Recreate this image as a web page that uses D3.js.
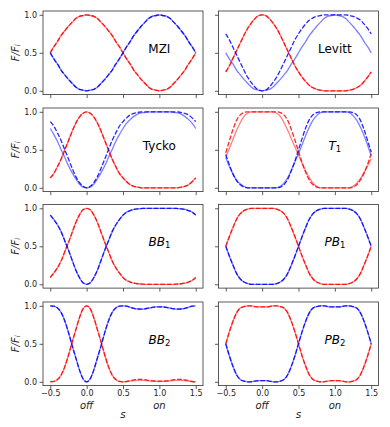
<!DOCTYPE html>
<html>
<head>
<meta charset="utf-8">
<script src="https://cdn.jsdelivr.net/npm/d3@7"></script>
<style>
  body { margin: 0; background: #fff; }
  text { font-family: 'DejaVu Sans', sans-serif; }
</style>
</head>
<body>
<script>
'use strict';

// x grid shared by every curve
const sGrid = [-0.5, -0.45, -0.4, -0.35, -0.3, -0.25, -0.2, -0.15, -0.1, -0.05, 0,
  0.05, 0.1, 0.15, 0.2, 0.25, 0.3, 0.35, 0.4, 0.45, 0.5,
  0.55, 0.6, 0.65, 0.7, 0.75, 0.8, 0.85, 0.9, 0.95, 1,
  1.05, 1.1, 1.15, 1.2, 1.25, 1.3, 1.35, 1.4, 1.45, 1.5];

const xTicks = [-0.5, 0, 0.5, 1, 1.5];
const xTickLabels = ['\u22120.5', '0.0', '0.5', '1.0', '1.5'];
const xSubLabels = ['', 'off', '', 'on', ''];
const yTicks = [0, 0.5, 1];
const yTickLabels = ['0.0', '0.5', '1.0'];

// MZI
const mziRed = [0.50,0.58,0.65,0.73,0.79,0.85,0.90,0.95,0.98,0.99,1.00, 0.99,0.98,0.95,0.90,0.85,0.79,0.73,0.65,0.58,0.50, 0.42,0.35,0.27,0.21,0.15,0.10,0.05,0.02,0.01,0.00, 0.01,0.02,0.05,0.10,0.15,0.21,0.27,0.35,0.42,0.50];
const mziBlue = [0.50,0.42,0.35,0.27,0.21,0.15,0.10,0.05,0.02,0.01,0.00, 0.01,0.02,0.05,0.10,0.15,0.21,0.27,0.35,0.42,0.50, 0.58,0.65,0.73,0.79,0.85,0.90,0.95,0.98,0.99,1.00, 0.99,0.98,0.95,0.90,0.85,0.79,0.73,0.65,0.58,0.50];

// Levitt
const levittRed = [0.25,0.33,0.43,0.53,0.63,0.73,0.82,0.89,0.95,0.99,1.00, 0.99,0.95,0.89,0.82,0.73,0.63,0.53,0.43,0.33,0.25, 0.18,0.12,0.07,0.04,0.02,0.01,0.00,0.00,0.00,0.00, 0.00,0.00,0.00,0.01,0.02,0.04,0.07,0.12,0.18,0.25];
const levittBlueSolid = [0.50,0.42,0.35,0.27,0.21,0.15,0.10,0.05,0.02,0.01,0.00, 0.01,0.02,0.05,0.10,0.15,0.21,0.27,0.35,0.42,0.50, 0.58,0.65,0.73,0.79,0.85,0.90,0.95,0.98,0.99,1.00, 0.99,0.98,0.95,0.90,0.85,0.79,0.73,0.65,0.58,0.50];
const levittBlueDash = [0.75,0.67,0.57,0.47,0.37,0.27,0.18,0.11,0.05,0.01,0.00, 0.01,0.05,0.11,0.18,0.27,0.37,0.47,0.57,0.67,0.75, 0.82,0.88,0.93,0.96,0.98,0.99,1.00,1.00,1.00,1.00, 1.00,1.00,1.00,0.99,0.98,0.96,0.93,0.88,0.82,0.75];

// Tycko
const tyckoRed = [0.13,0.19,0.28,0.38,0.50,0.62,0.74,0.85,0.93,0.98,1.00, 0.98,0.93,0.85,0.74,0.62,0.50,0.38,0.28,0.19,0.13, 0.08,0.04,0.02,0.01,0.00,0.00,0.00,0.00,0.00,0.00, 0.00,0.00,0.00,0.00,0.00,0.01,0.02,0.04,0.08,0.13];
const tyckoBlueSolid = [0.78,0.70,0.61,0.50,0.40,0.29,0.20,0.12,0.05,0.01,0.00, 0.01,0.05,0.12,0.20,0.29,0.40,0.50,0.61,0.70,0.78, 0.85,0.90,0.94,0.97,0.985,0.99,1.00,1.00,1.00,1.00, 1.00,1.00,1.00,0.99,0.985,0.97,0.94,0.90,0.85,0.78];
const tyckoBlueDash = [0.87,0.81,0.72,0.62,0.50,0.38,0.26,0.15,0.07,0.02,0.00, 0.02,0.07,0.15,0.26,0.38,0.50,0.62,0.72,0.81,0.87, 0.92,0.96,0.98,0.99,1.00,1.00,1.00,1.00,1.00,1.00, 1.00,1.00,1.00,1.00,1.00,0.99,0.98,0.96,0.92,0.87];

// T1
const t1RedSolid = [0.40,0.52,0.64,0.76,0.86,0.94,0.98,1.00,1.00,1.00,1.00, 1.00,1.00,1.00,0.98,0.94,0.86,0.76,0.65,0.54,0.43, 0.32,0.22,0.13,0.06,0.02,0.00,0.00,0.00,0.00,0.00, 0.00,0.00,0.00,0.00,0.02,0.06,0.12,0.20,0.29,0.38];
const t1RedDash = [0.46,0.62,0.77,0.89,0.96,0.99,1.00,1.00,1.00,1.00,1.00, 1.00,1.00,1.00,1.00,0.99,0.96,0.89,0.77,0.63,0.48, 0.33,0.20,0.10,0.04,0.01,0.00,0.00,0.00,0.00,0.00, 0.00,0.00,0.00,0.00,0.01,0.04,0.10,0.19,0.31,0.45];
const t1BlueSolid = [0.40,0.28,0.18,0.10,0.05,0.02,0.00,0.00,0.00,0.00,0.00, 0.00,0.00,0.00,0.00,0.02,0.06,0.13,0.23,0.34,0.45, 0.57,0.69,0.80,0.89,0.95,0.99,1.00,1.00,1.00,1.00, 1.00,1.00,1.00,0.99,0.95,0.89,0.80,0.69,0.56,0.42];
const t1BlueDash = [0.44,0.30,0.18,0.09,0.04,0.01,0.00,0.00,0.00,0.00,0.00, 0.00,0.00,0.00,0.00,0.01,0.04,0.11,0.22,0.35,0.50, 0.65,0.79,0.90,0.96,0.99,1.00,1.00,1.00,1.00,1.00, 1.00,1.00,1.00,1.00,0.99,0.96,0.89,0.77,0.62,0.47];

// BB1
const bb1Red = [0.09,0.15,0.22,0.31,0.43,0.55,0.68,0.81,0.91,0.98,1.00, 0.98,0.91,0.81,0.68,0.55,0.43,0.31,0.22,0.15,0.09, 0.05,0.03,0.015,0.007,0.003,0.00,0.00,0.00,0.00,0.00, 0.00,0.00,0.00,0.00,0.003,0.007,0.015,0.03,0.05,0.09];
const bb1Blue = [0.91,0.85,0.78,0.69,0.57,0.45,0.32,0.19,0.09,0.02,0.00, 0.02,0.09,0.19,0.32,0.45,0.57,0.69,0.78,0.85,0.91, 0.95,0.97,0.985,0.993,0.997,1.00,1.00,1.00,1.00,1.00, 1.00,1.00,1.00,1.00,0.997,0.993,0.985,0.97,0.95,0.91];

// PB1
const pb1Red = [0.50,0.63,0.75,0.86,0.93,0.97,0.99,1.00,1.00,1.00,1.00, 1.00,1.00,1.00,0.99,0.97,0.93,0.86,0.75,0.63,0.50, 0.37,0.25,0.14,0.07,0.03,0.01,0.00,0.00,0.00,0.00, 0.00,0.00,0.00,0.01,0.03,0.07,0.14,0.25,0.37,0.50];
const pb1Blue = [0.50,0.37,0.25,0.14,0.07,0.03,0.01,0.00,0.00,0.00,0.00, 0.00,0.00,0.00,0.01,0.03,0.07,0.14,0.25,0.37,0.50, 0.63,0.75,0.86,0.93,0.97,0.99,1.00,1.00,1.00,1.00, 1.00,1.00,1.00,0.99,0.97,0.93,0.86,0.75,0.63,0.50];

// BB2
const bb2RedSolid = [0.00,0.005,0.03,0.09,0.20,0.35,0.52,0.68,0.84,0.96,1.00, 0.96,0.84,0.68,0.52,0.35,0.20,0.09,0.03,0.005,0.00, 0.003,0.01,0.016,0.02,0.02,0.018,0.013,0.008,0.005,0.004, 0.005,0.008,0.013,0.018,0.02,0.02,0.016,0.01,0.003,0.00];
const bb2RedDash = [0.00,0.005,0.03,0.09,0.20,0.35,0.52,0.68,0.84,0.96,1.00, 0.96,0.84,0.68,0.52,0.35,0.20,0.09,0.03,0.005,0.00, 0.004,0.015,0.025,0.033,0.033,0.028,0.02,0.013,0.01,0.008, 0.01,0.013,0.02,0.028,0.033,0.033,0.025,0.015,0.004,0.00];
const bb2Blue = [1.00,0.995,0.97,0.91,0.80,0.65,0.48,0.32,0.16,0.04,0.00, 0.04,0.16,0.32,0.48,0.65,0.80,0.91,0.97,0.995,1.00, 0.995,0.98,0.965,0.958,0.956,0.96,0.968,0.978,0.985,0.987, 0.985,0.978,0.968,0.96,0.956,0.958,0.965,0.98,0.995,1.00];

// PB2
const pb2Red = [0.50,0.66,0.80,0.91,0.97,0.99,1.00,1.00,0.99,0.985,0.985, 0.985,0.99,1.00,1.00,0.99,0.97,0.91,0.80,0.66,0.50, 0.34,0.20,0.09,0.03,0.01,0.00,0.00,0.01,0.015,0.015, 0.015,0.01,0.00,0.00,0.01,0.03,0.09,0.20,0.34,0.50];
const pb2Blue = [0.50,0.34,0.20,0.09,0.03,0.01,0.00,0.00,0.01,0.015,0.015, 0.015,0.01,0.00,0.00,0.01,0.03,0.09,0.20,0.34,0.50, 0.66,0.80,0.91,0.97,0.99,1.00,1.00,0.99,0.985,0.985, 0.985,0.99,1.00,1.00,0.99,0.97,0.91,0.80,0.66,0.50];

const panels = [
  { name: 'MZI', col: 0, row: 0, redSolid: mziRed, redDash: mziRed, blueSolid: mziBlue, blueDash: mziBlue },
  { name: 'Levitt', col: 1, row: 0, redSolid: levittRed, redDash: levittRed, blueSolid: levittBlueSolid, blueDash: levittBlueDash },
  { name: 'Tycko', col: 0, row: 1, redSolid: tyckoRed, redDash: tyckoRed, blueSolid: tyckoBlueSolid, blueDash: tyckoBlueDash },
  { name: 'T', sub: '1', col: 1, row: 1, redSolid: t1RedSolid, redDash: t1RedDash, blueSolid: t1BlueSolid, blueDash: t1BlueDash },
  { name: 'BB', sub: '1', col: 0, row: 2, redSolid: bb1Red, redDash: bb1Red, blueSolid: bb1Blue, blueDash: bb1Blue },
  { name: 'PB', sub: '1', col: 1, row: 2, redSolid: pb1Red, redDash: pb1Red, blueSolid: pb1Blue, blueDash: pb1Blue },
  { name: 'BB', sub: '2', col: 0, row: 3, redSolid: bb2RedSolid, redDash: bb2RedDash, blueSolid: bb2Blue, blueDash: bb2Blue },
  { name: 'PB', sub: '2', col: 1, row: 3, redSolid: pb2Red, redDash: pb2Red, blueSolid: pb2Blue, blueDash: pb2Blue },
];

// layout
const colX = [43, 218.5];
const rowY = [11, 108, 204.5, 302];
const panelW = 160;
const panelH = 83.6;
const red = '#ff0000';
const blue = '#0000ff';
const axisColor = '#333';

const svg = d3.select('body').append('svg')
  .attr('width', 390)
  .attr('height', 427);

svg.append('rect').attr('width', 390).attr('height', 427).attr('fill', '#fff');

panels.forEach(function(p) {
  const x0 = colX[p.col];
  const y0 = rowY[p.row];
  const x = d3.scaleLinear().domain([-0.6, 1.6]).range([x0, x0 + panelW]);
  const y = d3.scaleLinear().domain([-0.05, 1.05]).range([y0 + panelH, y0]);

  const line = d3.line()
    .x((d, i) => x(sGrid[i]))
    .y((d) => y(d))
    .curve(d3.curveMonotoneX);

  const g = svg.append('g').attr('class', 'panel');

  // light solid curves underneath, dashed on top
  [[p.redSolid, red], [p.blueSolid, blue]].forEach(function(s) {
    g.append('path')
      .attr('d', line(s[0]))
      .attr('fill', 'none')
      .attr('stroke', s[1])
      .attr('stroke-opacity', 0.5)
      .attr('stroke-width', 1.3);
  });
  [[p.redDash, red], [p.blueDash, blue]].forEach(function(s) {
    g.append('path')
      .attr('d', line(s[0]))
      .attr('fill', 'none')
      .attr('stroke', s[1])
      .attr('stroke-opacity', 0.85)
      .attr('stroke-width', 1.3)
      .attr('stroke-dasharray', '4.8,1.8');
  });

  // frame
  g.append('rect')
    .attr('x', x0)
    .attr('y', y0)
    .attr('width', panelW)
    .attr('height', panelH)
    .attr('fill', 'none')
    .attr('stroke', axisColor)
    .attr('stroke-width', 0.8);

  const xAxis = d3.axisBottom(x)
    .tickValues(xTicks)
    .tickSize(3.5)
    .tickPadding(1.5)
    .tickFormat((d, i) => (p.row === 3 ? xTickLabels[i] : ''));

  g.append('g')
    .attr('transform', 'translate(0,' + (y0 + panelH) + ')')
    .call(xAxis)
    .call((a) => {
      a.select('.domain').remove();
      a.selectAll('line').attr('stroke', axisColor).attr('stroke-width', 0.8);
      a.selectAll('text')
        .attr('fill', '#222')
        .style('font-size', '8px')
        .style('font-family', 'DejaVu Sans');
    });

  const yAxis = d3.axisLeft(y)
    .tickValues(yTicks)
    .tickSize(3.5)
    .tickPadding(2.5)
    .tickFormat((d, i) => (p.col === 0 ? yTickLabels[i] : ''));

  g.append('g')
    .attr('transform', 'translate(' + x0 + ',0)')
    .call(yAxis)
    .call((a) => {
      a.select('.domain').remove();
      a.selectAll('line').attr('stroke', axisColor).attr('stroke-width', 0.8);
      a.selectAll('text')
        .attr('fill', '#222')
        .style('font-size', '8px')
        .style('font-family', 'DejaVu Sans');
    });

  // panel name
  const label = g.append('text')
    .attr('x', x(1.0))
    .attr('y', y(0.555))
    .attr('text-anchor', 'middle')
    .attr('dominant-baseline', 'central')
    .attr('fill', '#000')
    .style('font-size', '12px');
  if (p.sub) {
    label.append('tspan').style('font-style', 'italic').text(p.name);
    label.append('tspan')
      .attr('dy', 3)
      .style('font-size', '8.5px')
      .text(p.sub);
  } else {
    label.text(p.name);
  }

  // y label on the left column
  if (p.col === 0) {
    const cy = y0 + panelH / 2;
    const yl = g.append('text')
      .attr('transform', 'translate(15,' + cy + ') rotate(-90)')
      .attr('text-anchor', 'middle')
      .attr('dominant-baseline', 'central')
      .attr('fill', '#222')
      .style('font-size', '10px')
      .style('font-style', 'italic');
    yl.append('tspan').text('F/F');
    yl.append('tspan').attr('dy', 2.5).style('font-size', '7px').text('i');
  }

  // bottom row: off / on and s
  if (p.row === 3) {
    xSubLabels.forEach(function(t, i) {
      if (!t) return;
      g.append('text')
        .attr('x', x(xTicks[i]))
        .attr('y', 408.5)
        .attr('text-anchor', 'middle')
        .attr('fill', '#222')
        .style('font-size', '10px')
        .style('font-style', 'italic')
        .text(t);
    });
    g.append('text')
      .attr('x', x0 + panelW / 2)
      .attr('y', 418)
      .attr('text-anchor', 'middle')
      .attr('fill', '#222')
      .style('font-size', '10.5px')
      .style('font-style', 'italic')
      .text('s');
  }
});
</script>
</body>
</html>
